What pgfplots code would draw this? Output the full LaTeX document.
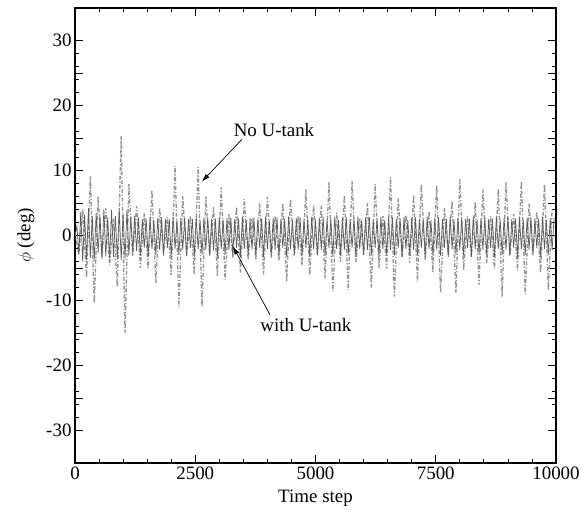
\documentclass[border=0pt]{standalone}
\usepackage{pgfplots}
\pgfplotsset{compat=1.18}
\usepackage{pgfplotstable}
\usepackage{fontspec}
\setmainfont{Liberation Serif}
\usetikzlibrary{arrows.meta}
\definecolor{nocol}{RGB}{145,145,145}
\definecolor{withcol}{RGB}{90,90,90}

% No U-tank
\pgfplotstableread{
t a
0 0.5
80 -3.0
160 4.0
240 -6.5
320 9.1
400 -10.4
480 6.0
560 -3.4
640 4.2
720 -4.6
800 2.6
880 -7.9
960 15.3
1040 -15.0
1120 7.9
1200 -3.2
1280 4.5
1360 -5.0
1440 3.4
1520 -5.0
1600 7.0
1680 -7.3
1760 4.2
1840 -2.6
1920 2.8
2000 -6.1
2080 10.7
2160 -11.0
2240 6.1
2320 -3.2
2400 3.0
2480 -6.0
2560 10.5
2640 -11.0
2720 6.0
2800 -3.0
2880 4.4
2960 -6.2
3040 7.4
3120 -6.8
3200 3.3
3280 -3.4
3360 4.4
3440 -5.7
3520 5.6
3600 -3.7
3680 2.6
3760 -3.7
3840 4.9
3920 -6.0
4000 5.9
4080 -3.4
4160 3.0
4240 -3.9
4320 5.0
4400 -7.1
4480 5.6
4560 -3.1
4640 3.0
4720 -4.6
4800 7.1
4880 -6.1
4960 4.6
5040 -3.0
5120 4.6
5200 -6.6
5280 8.2
5360 -8.6
5440 3.5
5520 -4.1
5600 6.2
5680 -8.4
5760 8.4
5840 -4.1
5920 2.6
6000 -3.0
6080 5.0
6160 -8.0
6240 7.9
6320 -5.0
6400 3.0
6480 -5.1
6560 9.0
6640 -9.4
6720 5.7
6800 -3.3
6880 3.1
6960 -4.2
7040 6.2
7120 -7.1
7200 7.9
7280 -3.7
7360 3.7
7440 -5.6
7520 7.7
7600 -8.8
7680 4.2
7760 -3.0
7840 5.3
7920 -8.8
8000 8.7
8080 -5.3
8160 3.0
8240 -3.4
8320 5.1
8400 -7.6
8480 7.1
8560 -4.2
8640 3.0
8720 -5.1
8800 7.2
8880 -9.4
8960 8.2
9040 -3.1
9120 3.3
9200 -5.4
9280 8.4
9360 -9.0
9440 4.9
9520 -2.8
9600 3.7
9680 -5.7
9760 7.9
9840 -8.4
9920 4.2
}\noutank

% with U-tank
\pgfplotstableread{
t b
0 0.0
40 1.5
80 -2.8
120 3.6
160 -4.0
200 3.2
240 -3.8
280 4.2
320 -3.4
360 3.0
400 -3.9
440 3.5
480 -2.7
520 3.1
560 -3.6
600 4.0
640 -3.2
680 2.8
720 -3.5
760 3.9
800 -3.3
840 3.0
880 -3.7
920 4.1
960 -3.8
1000 3.3
1040 -3.6
1080 4.0
1120 -3.1
1160 2.9
1200 -2.6
1240 3.0
1280 -2.4
1320 2.8
1360 -3.1
1400 2.5
1440 -1.9
1480 2.6
1520 -3.3
1560 2.9
1600 -2.1
1640 2.4
1680 -3.0
1720 2.7
1760 -2.2
1800 2.8
1840 -3.1
1880 2.5
1920 -1.9
1960 2.6
2000 -3.3
2040 2.9
2080 -2.1
2120 2.4
2160 -3.0
2200 2.7
2240 -2.2
2280 2.8
2320 -3.1
2360 2.5
2400 -1.9
2440 2.6
2480 -3.3
2520 2.9
2560 -2.1
2600 2.4
2640 -3.0
2680 2.7
2720 -2.2
2760 2.8
2800 -3.1
2840 2.5
2880 -2.3
2920 2.6
2960 -3.3
3000 2.9
3040 -2.1
3080 2.4
3120 -3.0
3160 2.7
3200 -2.2
3240 2.8
3280 -3.1
3320 2.5
3360 -1.9
3400 2.6
3440 -3.3
3480 2.9
3520 -2.1
3560 2.4
3600 -3.0
3640 2.7
3680 -2.2
3720 2.8
3760 -3.1
3800 2.5
3840 -1.9
3880 2.6
3920 -3.3
3960 2.9
4000 -2.1
4040 2.4
4080 -3.0
4120 2.7
4160 -2.2
4200 2.8
4240 -3.1
4280 2.5
4320 -1.9
4360 2.6
4400 -3.3
4440 2.9
4480 -2.1
4520 2.4
4560 -3.0
4600 2.7
4640 -2.2
4680 2.8
4720 -3.1
4760 2.5
4800 -1.9
4840 2.6
4880 -3.3
4920 2.9
4960 -2.1
5000 2.4
5040 -3.0
5080 2.7
5120 -2.2
5160 2.8
5200 -3.1
5240 2.5
5280 -1.9
5320 2.6
5360 -3.3
5400 2.9
5440 -2.1
5480 2.4
5520 -3.0
5560 2.7
5600 -2.2
5640 2.8
5680 -3.1
5720 2.5
5760 -1.9
5800 2.6
5840 -3.3
5880 2.9
5920 -2.1
5960 2.4
6000 -3.0
6040 2.7
6080 -2.2
6120 2.8
6160 -3.1
6200 2.5
6240 -1.9
6280 2.6
6320 -3.3
6360 2.9
6400 -2.1
6440 2.4
6480 -3.0
6520 2.7
6560 -2.2
6600 2.8
6640 -3.1
6680 2.5
6720 -1.9
6760 2.6
6800 -3.3
6840 2.9
6880 -2.1
6920 2.4
6960 -3.0
7000 2.7
7040 -2.2
7080 2.8
7120 -3.1
7160 2.5
7200 -1.9
7240 2.6
7280 -3.3
7320 2.9
7360 -2.1
7400 2.4
7440 -3.0
7480 2.7
7520 -2.2
7560 2.8
7600 -3.1
7640 2.5
7680 -1.9
7720 2.6
7760 -3.3
7800 2.9
7840 -2.1
7880 2.4
7920 -3.0
7960 2.7
8000 -2.2
8040 2.8
8080 -3.1
8120 2.5
8160 -1.9
8200 2.6
8240 -3.3
8280 2.9
8320 -2.1
8360 2.4
8400 -3.0
8440 2.7
8480 -2.2
8520 2.8
8560 -3.1
8600 2.5
8640 -1.9
8680 2.6
8720 -3.3
8760 2.9
8800 -2.1
8840 2.4
8880 -3.0
8920 2.7
8960 -2.2
9000 2.8
9040 -3.1
9080 2.5
9120 -1.9
9160 2.6
9200 -3.3
9240 2.9
9280 -2.1
9320 2.4
9360 -3.0
9400 2.7
9440 -2.2
9480 2.8
9520 -3.1
9560 2.5
9600 -1.9
9640 2.6
9680 -3.3
9720 2.9
9760 -2.1
9800 2.4
9840 -3.0
9880 2.7
9920 -2.2
9960 2.8
}\withutank

\begin{document}
\begin{tikzpicture}
\begin{axis}[
  name=ax,
  scale only axis,
  width=481bp, height=455bp,
  xmin=0, xmax=10000, ymin=-35, ymax=35,
  scaled x ticks=false,
  xtick={0,2500,5000,7500,10000},
  xticklabels={0,2500,5000,7500,10000},
  minor x tick num=4,
  ytick={-30,-20,-10,0,10,20,30},
  yticklabels={-30,-20,-10,0,10,20,30},
  extra y ticks={-25,-15,-5,5,15,25},
  extra y tick labels={},
  minor y tick num=4,
  tick align=inside,
  major tick length=8bp,
  minor tick length=4bp,
  every tick/.style={black, line width=0.8bp},
  axis line style={line width=1.6bp},
  tick label style={font=\fontsize{19}{22}\selectfont},
  label style={font=\fontsize{19}{22}\selectfont},
  xlabel={Time step},
  ylabel={$\phi$ (deg)},
  xlabel style={yshift=-4bp},
  ylabel style={yshift=5bp},
  clip=true,
]
\addplot[nocol, line width=1.3bp, dash pattern=on 4bp off 1.8bp on 1.2bp off 1.8bp] table[x=t, y=a] {\noutank};
\addplot[withcol, line width=0.7bp] table[x=t, y=b] {\withutank};
\node[font=\fontsize{19}{22}\selectfont] at (axis cs:4137,16.2) {No U-tank};
\draw[black, line width=0.7bp, -{Latex[length=8bp,width=5bp]}] (axis cs:3472,14.8) -- (axis cs:2640,8.3);
\node[font=\fontsize{19}{22}\selectfont] at (axis cs:4800,-13.8) {with U-tank};
\draw[black, line width=0.7bp, -{Latex[length=8bp,width=5bp]}] (axis cs:4054,-12.2) -- (axis cs:3285,-1.7);
\end{axis}
\pgfresetboundingbox
\path (ax.south west) ++(-75bp,-58bp) coordinate (bl);
\path (ax.north east) ++(25bp,8bp) coordinate (tr);
\path[use as bounding box] (bl) rectangle (tr);
\end{tikzpicture}
\end{document}
